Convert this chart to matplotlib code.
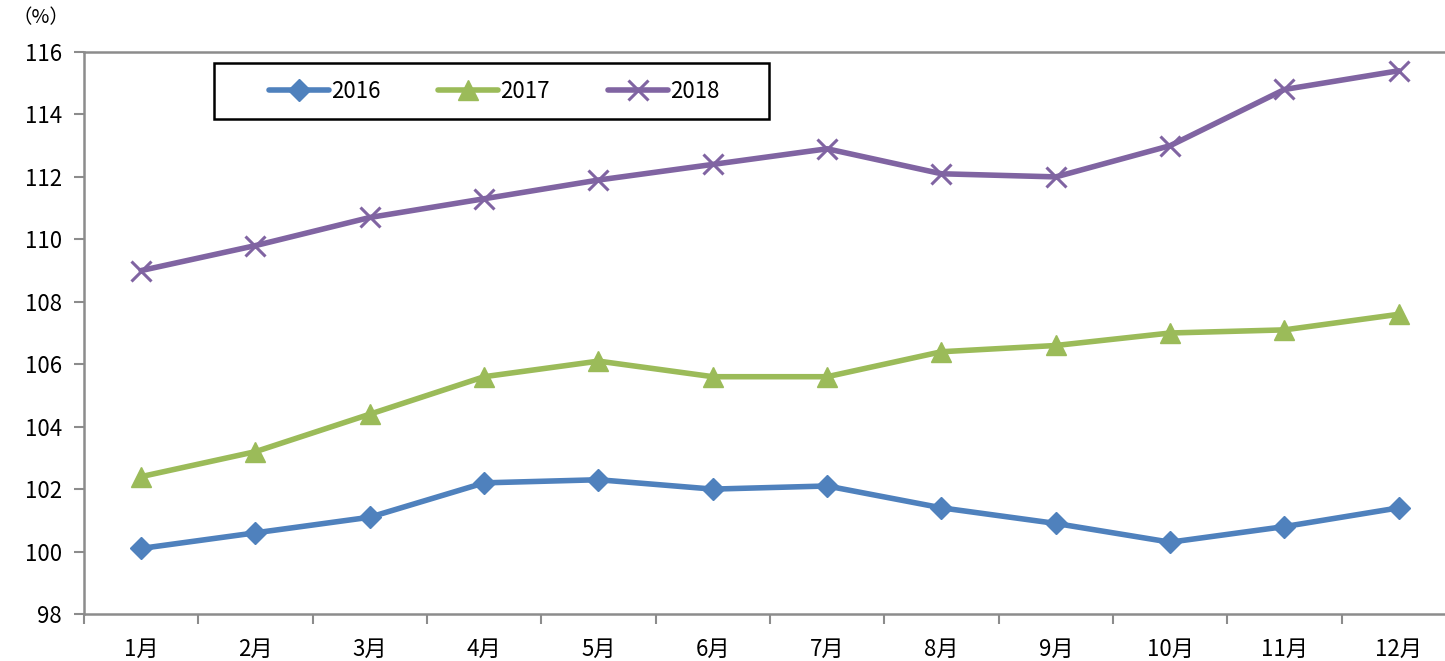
import matplotlib
matplotlib.use("Agg")
import matplotlib.pyplot as plt
from matplotlib.patches import Rectangle
import numpy as np

MONTHS = ["1月", "2月", "3月", "4月", "5月", "6月", "7月", "8月", "9月", "10月", "11月", "12月"]
V2016 = [100.1, 100.6, 101.1, 102.2, 102.3, 102.0, 102.1, 101.4, 100.9, 100.3, 100.8, 101.4]
V2017 = [102.4, 103.2, 104.4, 105.6, 106.1, 105.6, 105.6, 106.4, 106.6, 107.0, 107.1, 107.6]
V2018 = [109.0, 109.8, 110.7, 111.3, 111.9, 112.4, 112.9, 112.1, 112.0, 113.0, 114.8, 115.4]
Y_TICKS = [98, 100, 102, 104, 106, 108, 110, 112, 114, 116]

plt.rcParams["font.family"] = ["Noto Sans CJK JP", "DejaVu Sans"]

AXIS_GRAY = "#8c8c8c"
W, H = 1445, 661

fig = plt.figure(figsize=(W / 100, H / 100), dpi=100)
ax = fig.add_axes([84 / W, 47 / H, 1372 / W, 562 / H])

x = np.arange(len(MONTHS))
series = (
    ("2016", V2016, "#4f81bd", "D", 11, 1.0),
    ("2017", V2017, "#9bbb59", "^", 14, 1.0),
    ("2018", V2018, "#8064a2", "x", 14, 2.2),
)
for label, values, color, marker, ms, mew in series:
    ax.plot(x, values, color=color, linewidth=4.0, marker=marker, markersize=ms,
            markeredgewidth=mew, markerfacecolor=color, markeredgecolor=color,
            label=label, solid_capstyle="round", solid_joinstyle="round")

ax.set_xlim(-0.5, len(MONTHS) - 0.5)
ax.set_ylim(98, 116)
ax.set_yticks(Y_TICKS)
ax.set_yticklabels([str(t) for t in Y_TICKS], fontsize=16)
ax.set_xticks(x)
ax.set_xticklabels(MONTHS, fontsize=16)
ax.set_xticks(np.arange(-0.5, len(MONTHS), 1.0), minor=True)
ax.tick_params(axis="x", which="major", length=0, pad=17)
ax.tick_params(axis="x", which="minor", length=7, width=1.5, color=AXIS_GRAY)
ax.tick_params(axis="y", length=7, width=1.5, color=AXIS_GRAY, pad=9)

ax.spines["right"].set_visible(False)
for side in ("left", "bottom", "top"):
    ax.spines[side].set_color(AXIS_GRAY)
    ax.spines[side].set_linewidth(1.8)

# legend box drawn separately so its wide side padding matches
fig.patches.append(Rectangle((214 / W, 1 - 119 / H), 555 / W, 56 / H, transform=fig.transFigure,
                             fill=False, edgecolor="black", linewidth=1.8))
ax.legend(loc="center", bbox_to_anchor=(494 / W, 1 - 91 / H), bbox_transform=fig.transFigure,
          ncol=3, fontsize=16, frameon=False, handlelength=2.7, columnspacing=2.6,
          handletextpad=0.1)

fig.text(12 / W, 1 - 18 / H, "（%）", fontsize=14, ha="left", va="center")

fig.savefig("out.png", dpi=100)
